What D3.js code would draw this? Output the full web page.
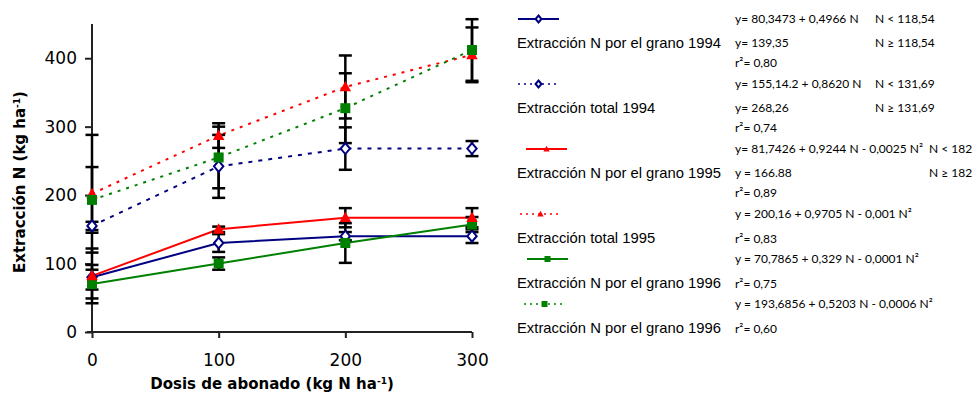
<!DOCTYPE html>
<html><head><meta charset="utf-8">
<script src="https://cdn.jsdelivr.net/npm/d3@7"></script>
<style>
html,body{margin:0;padding:0;background:#fff;}
svg{display:block;}
</style></head>
<body>
<script>
// ---------- DATA ----------
const doses = [0, 100, 200, 300];
const xTicks = [0, 100, 200, 300];
const yTicks = [0, 100, 200, 300, 400];

const seriesNames = [
  "Extracción N por el grano 1994",
  "Extracción total 1994",
  "Extracción N por el grano 1995",
  "Extracción total 1995",
  "Extracción N por el grano 1996",
  "Extracción N por el grano 1996"
];
const grano1994 = [80, 130, 140, 140];
const total1994 = [155, 242, 268, 268];
const grano1995 = [82, 150, 167, 167];
const total1995 = [202, 287, 358, 405];
const grano1996 = [70, 100, 130, 157];
const total1996 = [193, 255, 327, 412];

const errGrano1994 = [18, 13, 6, 10];
const errTotal1994 = [6, 46, 31, 11];
const errGrano1995 = [40, 4, 14, 14];
const errTotal1995 = [86, 18, 46, 40];
const errGrano1996 = [21, 9, 29, 11];
const errTotal1996 = [48, 45, 51, 45];

const equations = [
  ["y= 80,3473 + 0,4966 N", "y= 139,35", "r²= 0,80"],
  ["y= 155,14.2 + 0,8620 N", "y= 268,26", "r²= 0,74"],
  ["y= 81,7426 + 0,9244 N - 0,0025 N²", "y = 166.88", "r²= 0,89"],
  ["y = 200,16 + 0,9705 N - 0,001 N²", "r²= 0,83"],
  ["y = 70,7865 + 0,329 N - 0,0001 N²", "r²= 0,75"],
  ["y = 193,6856 + 0,5203 N - 0,0006 N²", "r²= 0,60"]
];
const conditions = [
  ["N < 118,54", "N ≥ 118,54"],
  ["N < 131,69", "N ≥ 131,69"],
  ["N < 182", "N ≥ 182"],
  [], [], []
];

// ---------- STYLE / LAYOUT ----------
const seriesValues = [grano1994, total1994, grano1995, total1995, grano1996, total1996];
const seriesErrors = [errGrano1994, errTotal1994, errGrano1995, errTotal1995, errGrano1996, errTotal1996];
const colors = ["#000080", "#000080", "#ff0000", "#ff0000", "#008000", "#008000"];
const dotted = [false, true, false, true, false, true];
const markers = ["diamond", "diamond", "triangle", "triangle", "square", "square"];
const dashes = [null, "4,6", null, "3,6", null, "3,6"];
const condX = [875, 875, 929];

const W = 976, H = 396;
const svg = d3.select("body").append("svg").attr("width", W).attr("height", H);

const x = d3.scaleLinear().domain([0, 300]).range([92, 472]);
const y = d3.scaleLinear().domain([0, 450]).range([332, 24]);

// axes
const axisColor = "#222";
const yAxis = svg.append("g").attr("transform", `translate(${x(0)},0)`)
  .call(d3.axisLeft(y).tickValues(yTicks).tickSize(7).tickPadding(8).tickFormat(d3.format("d")));
const xAxis = svg.append("g").attr("transform", `translate(0,${y(0)})`)
  .call(d3.axisBottom(x).tickValues(xTicks).tickSize(6).tickPadding(16).tickFormat(d3.format("d")));
[yAxis, xAxis].forEach(a => {
  a.select(".domain").attr("stroke", axisColor).attr("stroke-width", 2);
  a.selectAll(".tick line").attr("stroke", axisColor).attr("stroke-width", 2);
  a.selectAll(".tick text").attr("fill", "#000")
    .style("font-family", "'DejaVu Sans', Verdana, sans-serif").style("font-size", "17px");
});
yAxis.select(".domain").attr("d", `M0,${y(0)}V${y(450)}`);
xAxis.select(".domain").attr("d", `M${x(0) - 5},0H${x(300)}`);

// axis titles
const titleFont = "'DejaVu Sans', 'Comic Sans MS', sans-serif";
const yt = svg.append("text").attr("transform", `translate(25,182) rotate(-90)`)
  .attr("text-anchor", "middle").style("font-family", titleFont)
  .style("font-size", "15px").style("font-weight", "bold");
yt.append("tspan").text("Extracción N (kg ha");
yt.append("tspan").attr("baseline-shift", "super").style("font-size", "9px").text("-1");
yt.append("tspan").text(")");

const xt = svg.append("text").attr("x", 272).attr("y", 389)
  .attr("text-anchor", "middle").style("font-family", titleFont)
  .style("font-size", "15px").style("font-weight", "bold");
xt.append("tspan").text("Dosis de abonado (kg N ha");
xt.append("tspan").attr("baseline-shift", "super").style("font-size", "9px").text("-1");
xt.append("tspan").text(")");

function drawMarker(g, type, cx, cy, color, s) {
  if (type === "diamond") {
    g.append("path").attr("d", `M${cx},${cy - s}L${cx + s * 0.85},${cy}L${cx},${cy + s}L${cx - s * 0.85},${cy}Z`)
      .attr("fill", "#fff").attr("stroke", color).attr("stroke-width", 2);
  } else if (type === "triangle") {
    g.append("path").attr("d", `M${cx},${cy - s * 1.1}L${cx + s * 1.05},${cy + s * 0.8}L${cx - s * 1.05},${cy + s * 0.8}Z`)
      .attr("fill", color);
  } else {
    g.append("rect").attr("x", cx - s).attr("y", cy - s).attr("width", 2 * s).attr("height", 2 * s)
      .attr("fill", color);
  }
}

// lines
const lineGen = d3.line().x((d, i) => x(doses[i])).y(d => y(d));
const order = [1, 3, 5, 0, 4, 2];
order.forEach(k => {
  svg.append("path").datum(seriesValues[k]).attr("d", lineGen)
    .attr("fill", "none").attr("stroke", colors[k])
    .attr("stroke-width", 2)
    .attr("stroke-dasharray", dashes[k]);
});

// error bars
const eb = svg.append("g");
seriesValues.forEach((vals, k) => {
  vals.forEach((v, i) => {
    const e = seriesErrors[k][i];
    const cx = x(doses[i]);
    eb.append("line").attr("x1", cx).attr("x2", cx).attr("y1", y(v - e)).attr("y2", y(v + e))
      .attr("stroke", "#000").attr("stroke-width", 2.5);
    [v - e, v + e].forEach(w => {
      eb.append("line").attr("x1", cx - 6.5).attr("x2", cx + 6.5).attr("y1", y(w)).attr("y2", y(w))
        .attr("stroke", "#000").attr("stroke-width", 2.5);
    });
  });
});

// markers
const mk = svg.append("g");
order.forEach(k => {
  seriesValues[k].forEach((v, i) => {
    const s = markers[k] === "square" ? 5 : 5.5;
    drawMarker(mk, markers[k], x(doses[i]), y(v), colors[k], s);
  });
});

// ---------- LEGEND ----------
const legendFont = "'Liberation Sans', Arial, sans-serif";
const eqFont = "Lato, 'Open Sans', sans-serif";
const lg = svg.append("g");
const sampleX0 = [518, 518, 526, 520, 527, 524];
let rowTop = 19;
seriesNames.forEach((name, k) => {
  const nLines = equations[k].length;
  const eqOffsets = nLines === 3 ? [0, 24, 44] : [0, 25];
  const sx = sampleX0[k], sw = 41;
  lg.append("line").attr("x1", sx).attr("x2", sx + sw).attr("y1", rowTop).attr("y2", rowTop)
    .attr("stroke", colors[k]).attr("stroke-width", dotted[k] ? 1.5 : 2)
    .attr("stroke-dasharray", dotted[k] ? "2,4" : null);
  drawMarker(lg, markers[k], sx + sw / 2, rowTop, colors[k], markers[k] === "diamond" ? 3.5 : 3);
  lg.append("text").attr("x", 517).attr("y", rowTop + 24).attr("dy", "0.35em")
    .style("font-family", legendFont).style("font-size", "14.8px").attr("fill", "#000").text(name);
  equations[k].forEach((t, j) => {
    lg.append("text").attr("x", 735).attr("y", rowTop + eqOffsets[j]).attr("dy", "0.35em")
      .style("font-family", eqFont).style("font-size", "12px").attr("fill", "#000").text(t);
  });
  conditions[k].forEach((t, j) => {
    lg.append("text").attr("x", condX[k]).attr("y", rowTop + eqOffsets[j]).attr("dy", "0.35em")
      .style("font-family", eqFont).style("font-size", "12px").attr("fill", "#000").text(t);
  });
  rowTop += nLines === 3 ? 65 : 45;
});
</script>
</body></html>
